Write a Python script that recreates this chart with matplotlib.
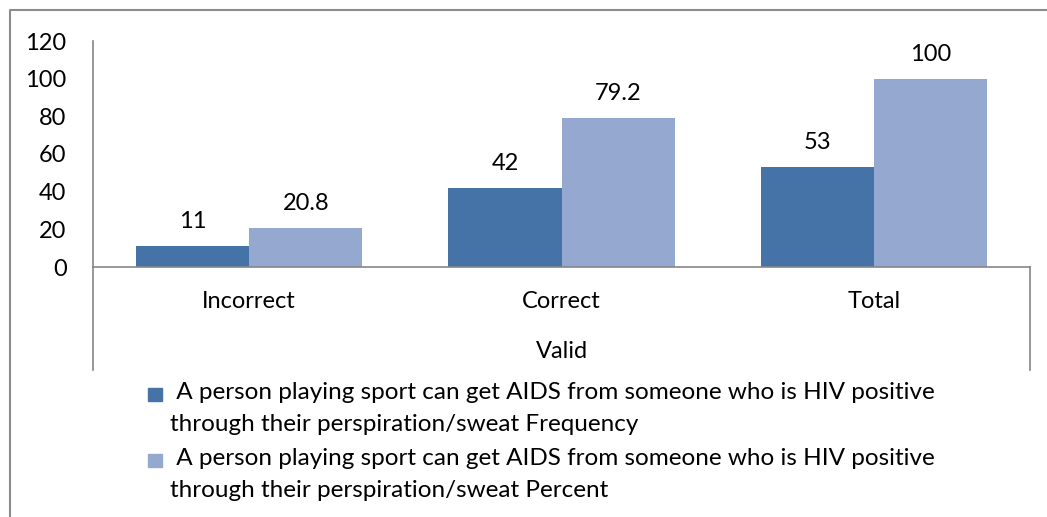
import matplotlib.pyplot as plt
from matplotlib.lines import Line2D
from matplotlib.patches import Rectangle
import numpy as np

plt.rcParams['font.family'] = ['Lato', 'DejaVu Sans']

categories = ['Incorrect', 'Correct', 'Total']
group_label = 'Valid'
frequency = [11, 42, 53]
percent = [20.8, 79.2, 100]
series_names = [
    ' A person playing sport can get AIDS from someone who is HIV positive\n'
    'through their perspiration/sweat Frequency',
    ' A person playing sport can get AIDS from someone who is HIV positive\n'
    'through their perspiration/sweat Percent',
]
colors = ['#4673A7', '#95A9D0']
FS = 17

W, H = 1047, 517
fig = plt.figure(figsize=(W / 100, H / 100), dpi=100)
ax = fig.add_axes([93 / W, 1 - 267 / H, (1030 - 93) / W, (267 - 41) / H])

x = np.arange(len(categories))
w = 0.362
b1 = ax.bar(x - w / 2, frequency, w, color=colors[0])
b2 = ax.bar(x + w / 2, percent, w, color=colors[1])
ax.bar_label(b1, fmt='%g', padding=10, fontsize=FS)
ax.bar_label(b2, fmt='%g', padding=10, fontsize=FS)

ax.set_xlim(-0.5, len(categories) - 0.5)
ax.set_ylim(0, 120)
ax.set_yticks(np.arange(0, 121, 20))
ax.set_xticks(x)
ax.set_xticklabels(categories)
ax.tick_params(axis='y', length=0, pad=19, labelsize=FS)
ax.tick_params(axis='x', length=0, pad=17, labelsize=FS)

for s in ax.spines.values():
    s.set_visible(False)

# axis frame: left line runs down past the category rows, bottom axis, right closing line
line_kw = dict(color='#868686', lw=1.2, transform=ax.transAxes, clip_on=False)
low = -(370 - 267) / (267 - 41)
ax.plot([0, 0], [1, low], **line_kw)
ax.plot([0, 1], [0, 0], **line_kw)
ax.plot([1, 1], [0, low], **line_kw)

ax.text(0.5, -(352 - 267) / (267 - 41), group_label, transform=ax.transAxes,
        ha='center', va='center', fontsize=FS)

# legend drawn by hand: square marker plus two-line label
for i, (name, c) in enumerate(zip(series_names, colors)):
    sq_top = 388 + i * 66
    fig.patches.append(Rectangle((148 / W, 1 - (sq_top + 13) / H), 14 / W, 13 / H,
                                 color=c, transform=fig.transFigure))
    fig.text(170 / W, 1 - (382 + i * 66) / H, name, ha='left', va='top',
             fontsize=17.5, linespacing=1.64)

# outer chart border (left and top edges)
fig.lines.append(Line2D([10 / W, 10 / W, 1], [0, 1 - 10 / H, 1 - 10 / H],
                        color='#8c8c8c', lw=1.5, transform=fig.transFigure))

fig.savefig('out.png', dpi=100)
